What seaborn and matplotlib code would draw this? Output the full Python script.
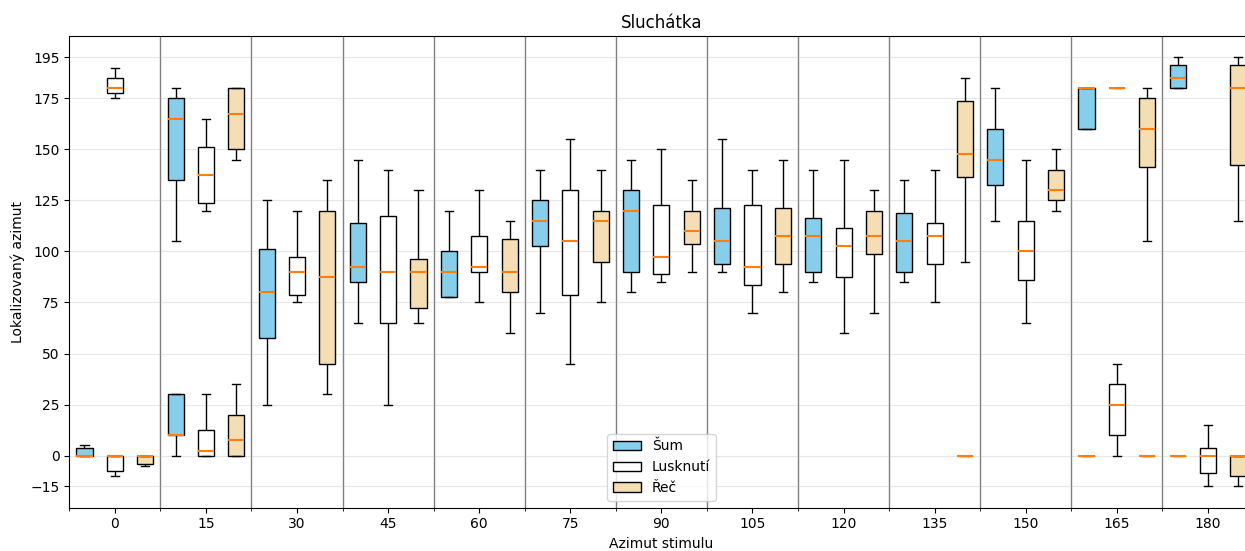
import numpy as np
import pandas as pd
import seaborn as sns
import matplotlib.pyplot as plt

stimuli = [0, 15, 30, 45, 60, 75, 90, 105, 120, 135, 150, 165, 180]
types = ['Šum', 'Lusknutí', 'Řeč']
colors = ['skyblue', 'white', 'wheat']

# five-number summaries (min, q1, median, q3, max)
# layer a = main box of each stimulus, layer b = second cluster (near 0 / 180)
sum_a = [(0, 0, 0, 3.75, 5), (105, 135, 165, 175, 180), (25, 57.5, 80, 101.25, 125),
         (65, 85, 92.5, 113.75, 145), (77.5, 77.5, 90, 100, 120), (70, 102.5, 115, 125, 140),
         (80, 90, 120, 130, 145), (90, 93.75, 105, 121.25, 155), (85, 90, 107.5, 116.25, 140),
         (85, 90, 105, 118.75, 135), (115, 132.5, 145, 160, 180), (160, 160, 180, 180, 180),
         (180, 180, 185, 191.25, 195)]
sum_b = {15: (0, 10, 10, 30, 30), 165: (0, 0, 0, 0, 0), 180: (0, 0, 0, 0, 0)}

lusk_a = [(175, 177.5, 180, 185, 190), (120, 123.75, 137.5, 151.25, 165), (75, 78.75, 90, 97.5, 120),
          (25, 65, 90, 117.5, 140), (75, 90, 92.5, 107.5, 130), (45, 78.75, 105, 130, 155),
          (85, 88.75, 97.5, 122.5, 150), (70, 83.75, 92.5, 122.5, 140), (60, 87.5, 102.5, 111.25, 145),
          (75, 93.75, 107.5, 113.75, 140), (65, 86.25, 100, 115, 145), (0, 10, 25, 35, 45),
          (-15, -8.75, 0, 3.75, 15)]
lusk_b = {0: (-10, -7.5, 0, 0, 0), 15: (0, 0, 2.5, 12.5, 30), 165: (180, 180, 180, 180, 180)}

rec_a = [(-5, -4, 0, 0, 0), (145, 150, 167.5, 180, 180), (30, 45, 87.5, 120, 135),
         (65, 72.5, 90, 96.25, 130), (60, 80, 90, 106.25, 115), (75, 95, 115, 120, 140),
         (90, 103.75, 110, 120, 135), (80, 93.75, 107.5, 121.25, 145), (70, 98.75, 107.5, 120, 130),
         (95, 136.25, 147.5, 173.75, 185), (120, 125, 130, 140, 150), (105, 141.25, 160, 175, 180),
         (115, 142.5, 180, 191.25, 195)]
rec_b = {15: (0, 0, 7.5, 20, 35), 135: (0, 0, 0, 0, 0), 165: (0, 0, 0, 0, 0),
         180: (-15, -10, 0, 0, 0)}

rows = []
for t, main, extra in zip(types, [sum_a, lusk_a, rec_a], [sum_b, lusk_b, rec_b]):
    boxes = list(zip(stimuli, main)) + list(extra.items())
    for i, (s, vals) in enumerate(boxes):
        # boxes where all answers are the same are only a median line
        layer = 'c' if min(vals) == max(vals) else ('a' if i < len(stimuli) else 'b')
        for v in vals:
            rows.append((s, t, v, layer))
df = pd.DataFrame(rows, columns=['stimul', 'typ', 'azimut', 'vrstva'])

fig = plt.figure(figsize=(12.45, 5.51), dpi=100)
ax = fig.add_axes([69.3 / 1245, 43.3 / 551, 1184.2 / 1245, 471.7 / 551])

common = dict(x='stimul', y='azimut', hue='typ', order=stimuli, hue_order=types,
              palette=colors, saturation=1, width=1.0, gap=0.47, whis=(0, 100),
              linewidth=1.0, showfliers=False,
              medianprops={'color': 'C1', 'linewidth': 1.5}, ax=ax)
sns.boxplot(data=df[df['vrstva'] == 'a'], legend=True, linecolor='black', **common)
sns.boxplot(data=df[df['vrstva'] == 'b'], legend=False, linecolor='black', **common)
sns.boxplot(data=df[df['vrstva'] == 'c'], legend=False, linecolor='C1', **common)

ax.set_xlim(-0.5, len(stimuli) - 0.5)
ax.set_ylim(-25.5, 205.5)
ax.set_yticks([-15, 0, 25, 50, 75, 100, 125, 150, 175, 195])
ax.set_xticks(np.arange(len(stimuli)))
ax.set_xticklabels([str(s) for s in stimuli])
ax.set_xticks(np.arange(len(stimuli) + 1) - 0.5, minor=True)
ax.grid(axis='y', alpha=0.3)
for b in np.arange(len(stimuli) - 1) + 0.5:
    ax.axvline(b, color='gray', linewidth=1, zorder=0.5)

ax.set_title('Sluchátka')
ax.set_xlabel('Azimut stimulu')
ax.set_ylabel('Lokalizovaný azimut')
sns.move_legend(ax, 'lower center', title=None)

fig.savefig('out.png', dpi=100)
